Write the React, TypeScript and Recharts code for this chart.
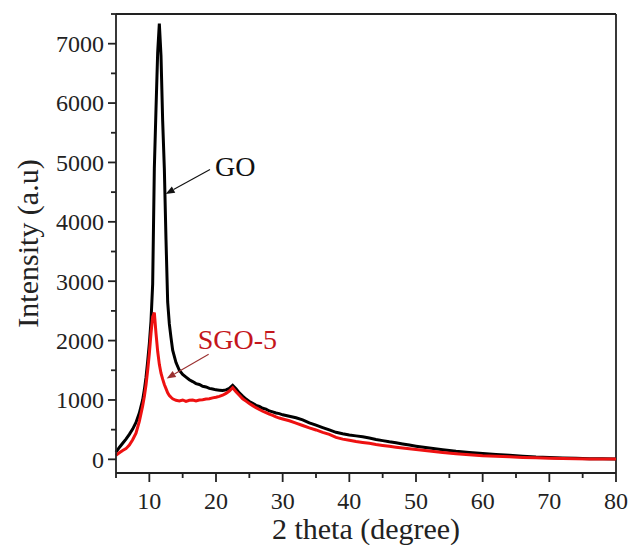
import { LineChart, Line, XAxis, YAxis, ReferenceLine, Label } from 'recharts';

// 2 theta positions (degree), shared by both patterns
const theta = [
  5, 5.5, 6, 6.5, 7, 7.5, 8, 8.5, 9,
  9.25, 9.5, 9.75, 10, 10.25, 10.5, 10.75, 11, 11.25, 11.5, 11.75, 12, 12.25, 12.5, 12.75, 13, 13.25, 13.5,
  14, 14.5, 15, 15.5, 16, 16.5, 17, 17.5, 18, 18.5, 19, 19.5, 20, 20.5, 21, 21.5, 22, 22.5, 23, 23.5, 24,
  24.5, 25, 25.5, 26, 26.5, 27, 27.5, 28, 28.5, 29, 29.5, 30,
  31, 32, 33, 34, 35, 36, 37, 38, 39, 40, 41, 42, 43, 44, 45, 46, 47, 48, 49, 50,
  52, 54, 56, 58, 60, 62, 64, 66, 68, 70, 72, 74, 76, 78, 80,
];

const goIntensity = [
  120, 200, 270, 340, 420, 510, 620, 780, 1000,
  1170, 1380, 1650, 1950, 2330, 2950, 4900, 5900, 6850, 7340, 6800, 5700, 4900, 3700, 2650, 2280, 2050, 1840,
  1630, 1500, 1430, 1385, 1340, 1310, 1275, 1260, 1230, 1220, 1195, 1185, 1170, 1165, 1160, 1170, 1195, 1245, 1190, 1120, 1065,
  1015, 975, 945, 910, 890, 860, 845, 815, 800, 780, 770, 750,
  725, 700, 665, 615, 575, 535, 495, 455, 430, 410, 395, 380, 360, 335, 315, 295, 278, 258, 240, 222,
  190, 160, 135, 115, 98, 83, 68, 52, 38, 30, 23, 17, 12, 9, 6,
];

const sgoIntensity = [
  70, 110, 150, 180, 240, 330, 440, 640, 900,
  1060, 1250, 1500, 1780, 2120, 2400, 2470, 2120, 1820, 1600, 1450, 1350, 1260, 1190, 1120, 1075, 1045, 1020,
  995, 985, 1000, 975, 995, 1000, 985, 1000, 1005, 1015, 1020, 1035, 1045, 1060, 1080, 1110, 1150, 1205, 1140, 1080, 1020,
  980, 940, 905, 870, 840, 810, 785, 760, 740, 715, 695, 680,
  650, 610, 570, 530, 495, 455, 420, 370, 340, 320, 300, 285, 270, 250, 235, 220, 205, 192, 178, 165,
  140, 115, 95, 78, 62, 52, 42, 33, 25, 19, 14, 10, 7, 5, 4,
];

const xTicks = [5, 10, 15, 20, 25, 30, 35, 40, 45, 50, 55, 60, 65, 70, 75, 80];
const yTicks = [0, 500, 1000, 1500, 2000, 2500, 3000, 3500, 4000, 4500, 5000, 5500, 6000, 6500, 7000, 7500];

const data = theta.map((t, i) => ({ theta: t, go: goIntensity[i], sgo: sgoIntensity[i] }));

const FONT = '"Liberation Serif", "Times New Roman", serif';
const AXIS = '#222';

const XTick = (props: any) => {
  const { x, y, payload } = props;
  const major = payload.value % 10 === 0;
  return (
    <g>
      <line x1={x} y1={y} x2={x} y2={y + (major ? 9 : 5)} stroke={AXIS} strokeWidth={1.8} />
      {major && (
        <text x={x} y={y + 36} textAnchor="middle" fontFamily={FONT} fontSize={24} fill="#222">
          {payload.value}
        </text>
      )}
    </g>
  );
};

const YTick = (props: any) => {
  const { x, y, payload } = props;
  const major = payload.value % 1000 === 0;
  return (
    <g>
      <line x1={x} y1={y} x2={x - (major ? 8 : 5)} y2={y} stroke={AXIS} strokeWidth={1.8} />
      {major && (
        <text x={x - 12} y={y} dy="0.35em" textAnchor="end" fontFamily={FONT} fontSize={24} fill="#222">
          {payload.value}
        </text>
      )}
    </g>
  );
};

const YTitle = (props: any) => {
  const { viewBox } = props;
  const cx = viewBox.x + 27;
  const cy = viewBox.y + viewBox.height / 2;
  return (
    <text x={cx} y={cy} transform={`rotate(-90 ${cx} ${cy})`} textAnchor="middle" dominantBaseline="central"
      fontFamily={FONT} fontSize={30} fill="#222">
      Intensity (a.u)
    </text>
  );
};

// arrow with a text label placed next to its tail
const arrow = (text: string, color: string, textColor: string, dx: number, dy: number) => (p: any) => {
  const { x1, y1, x2, y2 } = p;
  const a = Math.atan2(y2 - y1, x2 - x1);
  const len = 9;
  const w = 3.5;
  const bx = x2 - len * Math.cos(a);
  const by = y2 - len * Math.sin(a);
  const pts = [
    `${x2},${y2}`,
    `${bx + w * Math.sin(a)},${by - w * Math.cos(a)}`,
    `${bx - w * Math.sin(a)},${by + w * Math.cos(a)}`,
  ].join(' ');
  return (
    <g>
      <line x1={x1} y1={y1} x2={bx} y2={by} stroke={color} strokeWidth={1.1} />
      <polygon points={pts} fill={color} />
      <text x={x1 + dx} y={y1 + dy} fontFamily={FONT} fontSize={28} fill={textColor}>
        {text}
      </text>
    </g>
  );
};

export default function App() {
  return (
    <div style={{ position: 'absolute', left: 0, top: 0, background: '#fff' }}>
      <LineChart width={630} height={545} data={data} margin={{ top: 14, right: 14, left: 0, bottom: 0 }}>
        <XAxis
          dataKey="theta"
          type="number"
          domain={[5, 80]}
          ticks={xTicks}
          interval={0}
          tick={<XTick />}
          tickLine={false}
          tickSize={0}
          tickMargin={0}
          height={72}
          axisLine={{ stroke: AXIS, strokeWidth: 1.8 }}
        >
          <Label value="2 theta (degree)" position="insideBottom" offset={6}
            style={{ fontFamily: FONT, fontSize: 30, fill: '#222' }} />
        </XAxis>
        <YAxis
          type="number"
          domain={[-230, 7500]}
          ticks={yTicks}
          interval={0}
          tick={<YTick />}
          tickLine={false}
          tickSize={0}
          tickMargin={0}
          width={116}
          axisLine={{ stroke: AXIS, strokeWidth: 1.8 }}
        >
          <Label content={<YTitle />} />
        </YAxis>
        <ReferenceLine y={7500} stroke={AXIS} strokeWidth={1.8} />
        <ReferenceLine x={80} stroke={AXIS} strokeWidth={1.8} />
        <Line type="linear" dataKey="go" stroke="#000" strokeWidth={3} dot={false} isAnimationActive={false} />
        <Line type="linear" dataKey="sgo" stroke="#ee1111" strokeWidth={3} dot={false} isAnimationActive={false} />
        <ReferenceLine
          segment={[{ x: 19.1, y: 4880 }, { x: 12.45, y: 4470 }]}
          shape={arrow('GO', '#111', '#111', 5, 6)}
        />
        <ReferenceLine
          segment={[{ x: 18.9, y: 1770 }, { x: 12.6, y: 1360 }]}
          shape={arrow('SGO-5', '#9b3030', '#c4161c', -11, -5)}
        />
      </LineChart>
    </div>
  );
}
